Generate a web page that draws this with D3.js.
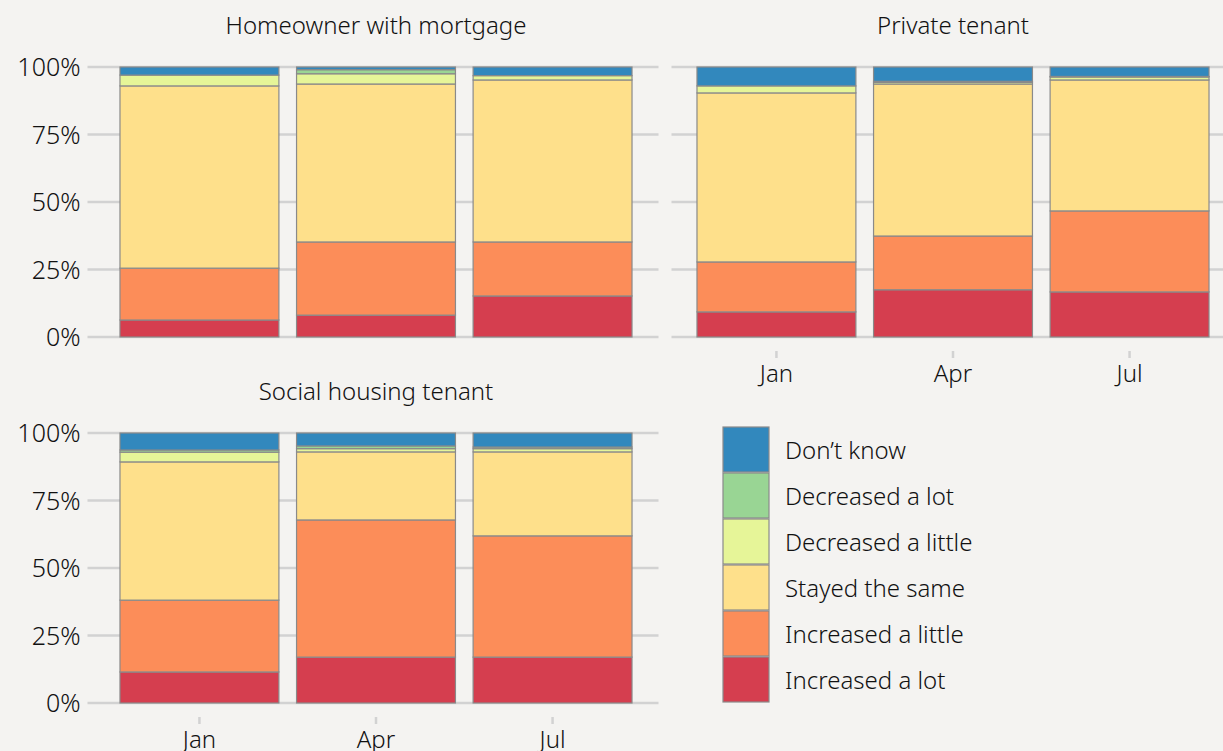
<!DOCTYPE html>
<html>
<head>
<meta charset="utf-8">
<script src="https://cdn.jsdelivr.net/npm/d3@7"></script>
<style>
  body { margin: 0; background: #f4f3f1; }
  svg { display: block; font-family: "Noto Sans", sans-serif; font-weight: 300; }
</style>
</head>
<body>
<div id="chart"></div>
<script>
// categories and series
var months = ["Jan", "Apr", "Jul"];
var responses = ["Increased a lot", "Increased a little", "Stayed the same",
                 "Decreased a little", "Decreased a lot", "Don\u2019t know"];
var colours = ["#d53e4f", "#fc8d59", "#fee08b", "#e6f598", "#99d594", "#3288bd"];
var yTicks = [0, 25, 50, 75, 100];

// percentages per month, in the order of responses
var homeowner = [
  [6.3, 19.2, 67.5, 4.0, 0.0, 3.0],
  [8.1, 27.1, 58.5, 3.8, 1.5, 1.0],
  [15.2, 20.0, 60.0, 1.6, 0.0, 3.2]
];
var privateTenant = [
  [9.3, 18.5, 62.6, 2.6, 0.0, 7.0],
  [17.5, 19.9, 56.3, 0.6, 0.4, 5.3],
  [16.7, 30.0, 48.5, 1.1, 0.2, 3.5]
];
var socialTenant = [
  [11.5, 26.6, 51.2, 3.6, 0.8, 6.3],
  [17.0, 50.8, 25.2, 1.2, 1.0, 4.8],
  [17.0, 44.9, 31.1, 1.2, 0.6, 5.2]
];

var W = 1223, H = 751;
var svg = d3.select("#chart").append("svg")
    .attr("width", W)
    .attr("height", H);

var colour = d3.scaleOrdinal().domain(responses).range(colours);
var stack = d3.stack().keys(d3.range(responses.length));

function drawPanel(title, data, x0, x1, y0, y1, showY, showX) {
  var g = svg.append("g");

  var x = d3.scaleBand()
      .domain(months)
      .range([x0, x1])
      .paddingInner(0.1)
      .paddingOuter(0.15);
  var y = d3.scaleLinear()
      .domain([0, 100])
      .range([y1, y0]);

  // gridlines (plus y tick extension)
  g.selectAll(".grid")
    .data(yTicks)
    .enter().append("line")
    .attr("x1", showY ? x0 - 6 : x0 + 1)
    .attr("x2", x1)
    .attr("y1", function(d) { return y(d); })
    .attr("y2", function(d) { return y(d); })
    .attr("stroke", "#d2d2d2")
    .attr("stroke-width", 2.5);

  if (showY) {
    g.selectAll(".ylab")
      .data(yTicks)
      .enter().append("text")
      .attr("x", x0 - 13)
      .attr("y", function(d) { return y(d); })
      .attr("dy", "0.36em")
      .attr("text-anchor", "end")
      .attr("font-size", 25)
      .attr("fill", "#111")
      .text(function(d) { return d + "%"; });
  }

  // stacked bars
  var rows = data.map(function(v, i) { var o = {month: months[i]}; v.forEach(function(p, j) { o[j] = p; }); return o; });
  var series = stack(rows);
  g.selectAll(".layer")
    .data(series)
    .enter().append("g")
    .attr("fill", function(s) { return colours[s.key]; })
    .selectAll("rect")
    .data(function(s) { return s; })
    .enter().append("rect")
    .attr("x", function(d) { return x(d.data.month); })
    .attr("width", x.bandwidth())
    .attr("y", function(d) { return y(d[1]); })
    .attr("height", function(d) { return y(d[0]) - y(d[1]); })
    .attr("stroke", "#8a8a8a")
    .attr("stroke-width", 1.2);

  if (showX) {
    g.selectAll(".xtick")
      .data(months)
      .enter().append("line")
      .attr("x1", function(d) { return x(d) + x.bandwidth() / 2; })
      .attr("x2", function(d) { return x(d) + x.bandwidth() / 2; })
      .attr("y1", y1 + 14)
      .attr("y2", y1 + 21)
      .attr("stroke", "#d2d2d2")
      .attr("stroke-width", 2.5);
    g.selectAll(".xlab")
      .data(months)
      .enter().append("text")
      .attr("x", function(d) { return x(d) + x.bandwidth() / 2; })
      .attr("y", y1 + 45)
      .attr("text-anchor", "middle")
      .attr("font-size", 24)
      .attr("fill", "#111")
      .text(function(d) { return d; });
  }

  g.append("text")
    .attr("x", (x0 + x1) / 2)
    .attr("y", y0 - 33)
    .attr("text-anchor", "middle")
    .attr("font-size", 24)
    .attr("fill", "#111")
    .text(title);
}

drawPanel("Homeowner with mortgage", homeowner, 93.5, 658.5, 67, 337, true, false);
drawPanel("Private tenant", privateTenant, 670.5, 1235.5, 67, 337, false, true);
drawPanel("Social housing tenant", socialTenant, 93.5, 658.5, 433, 703, true, true);

// legend (top item is Don't know)
var legendItems = responses.slice().reverse();
var legend = svg.append("g").attr("transform", "translate(723,427)");
var item = legend.selectAll(".item")
    .data(legendItems)
    .enter().append("g")
    .attr("transform", function(d, i) { return "translate(0," + (i * 46) + ")"; });
item.append("rect")
    .attr("width", 46)
    .attr("height", 45)
    .attr("fill", function(d) { return colour(d); })
    .attr("stroke", "#8a8a8a")
    .attr("stroke-width", 1.2);
item.append("text")
    .attr("x", 62)
    .attr("y", 23)
    .attr("dy", "0.36em")
    .attr("font-size", 24)
    .attr("fill", "#111")
    .text(function(d) { return d; });
</script>
</body>
</html>
